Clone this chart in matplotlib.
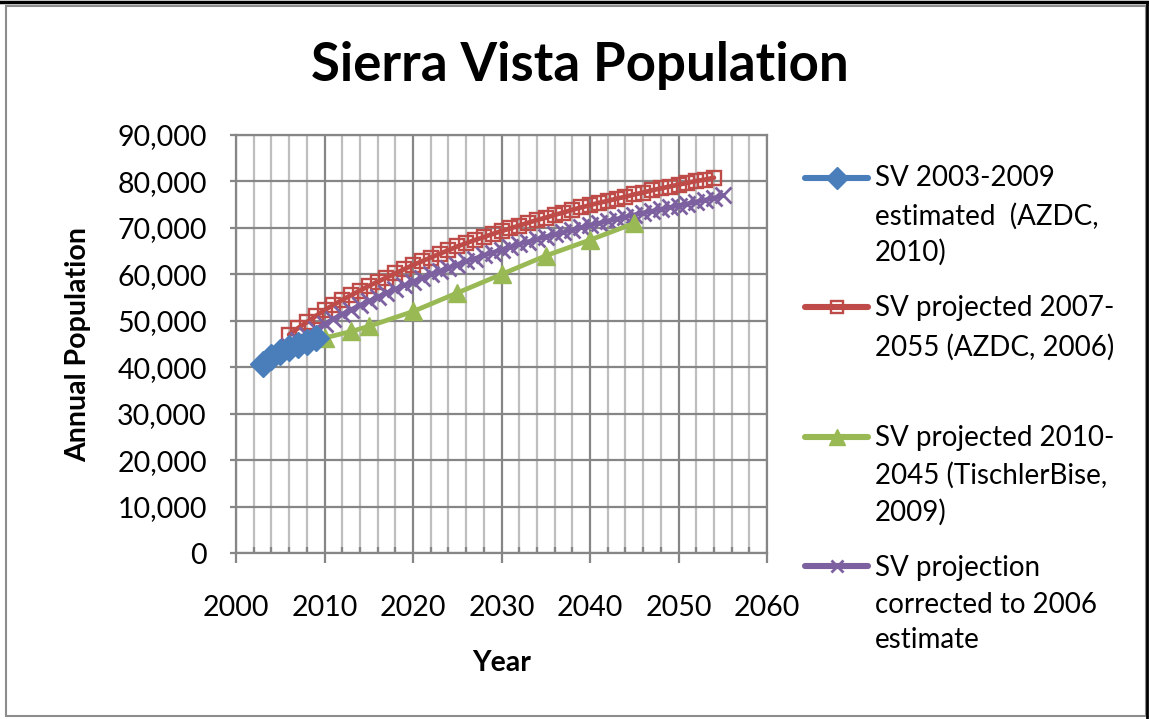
import matplotlib
matplotlib.use("Agg")
import matplotlib.pyplot as plt
from matplotlib.lines import Line2D
from matplotlib.patches import Rectangle
from matplotlib.ticker import MultipleLocator, FuncFormatter

FONT = "Lato"

# --- data -------------------------------------------------------------
est_years = [2003, 2004, 2005, 2006, 2007, 2008, 2009]
est_pop = [40700, 42300, 43300, 44100, 44800, 45500, 46200]

azdc_years = list(range(2006, 2055))
azdc_pop = [47000, 48400, 49700, 51000, 52300, 53400, 54500, 55500, 56500, 57500,
            58400, 59300, 60200, 61100, 62000, 62800, 63600, 64400, 65200, 66000,
            66700, 67400, 68000, 68700, 69300, 69900, 70500, 71100, 71700, 72200,
            72800, 73300, 73900, 74400, 74900, 75400, 75800, 76300, 76700, 77200,
            77600, 78100, 78500, 78900, 79300, 79700, 80100, 80400, 80800]

tb_years = [2010, 2013, 2015, 2020, 2025, 2030, 2035, 2040, 2045]
tb_pop = [46300, 47700, 48800, 52000, 56000, 60000, 64000, 67400, 71000]

corr_years = list(range(2006, 2056))
corr_pop = [44600, 45800, 47000, 48200, 49300, 50400, 51400, 52400, 53300, 54200,
            55100, 56000, 56800, 57600, 58400, 59200, 60000, 60700, 61400, 62100,
            62800, 63400, 64100, 64700, 65300, 65900, 66500, 67000, 67600, 68100,
            68600, 69100, 69600, 70100, 70600, 71000, 71500, 71900, 72400, 72800,
            73200, 73600, 74000, 74400, 74800, 75200, 75600, 76000, 76400, 77000]

legend_lines = [
    ["SV 2003-2009", "estimated  (AZDC,", "2010)"],
    ["SV projected 2007-", "2055 (AZDC, 2006)"],
    ["SV projected 2010-", "2045 (TischlerBise,", "2009)"],
    ["SV projection", "corrected to 2006", "estimate"],
]

# --- styles -----------------------------------------------------------
BLUE, RED, GREEN, PURPLE = "#4A7EBB", "#BE4B48", "#98B954", "#7D60A0"
GRID_MAJOR, GRID_MINOR = "#868686", "#BEBEBE"
LW = 3.4

styles = [
    dict(color=BLUE, lw=LW, marker="D", ms=13, mfc=BLUE, mec=BLUE, mew=1),
    dict(color=RED, lw=LW, marker="s", ms=10.5, mfc="none", mec=RED, mew=1.7),
    dict(color=GREEN, lw=LW, marker="^", ms=13, mfc=GREEN, mec=GREEN, mew=1),
    dict(color=PURPLE, lw=LW, marker="x", ms=11, mfc=PURPLE, mec=PURPLE, mew=2),
]

W, H = 1149, 719
fig = plt.figure(figsize=(W / 100, H / 100), dpi=100)

def fx(px):
    return px / W

def fy(py):
    return 1 - py / H

# chart frame
fig.patches.append(Rectangle((fx(6), fy(716)), fx(1140), 710 / H, transform=fig.transFigure,
                             fill=False, edgecolor="#8C8C8C", lw=1.5))
fig.add_artist(Line2D([0, 1], [fy(2), fy(2)], transform=fig.transFigure, color="black", lw=2.5))
fig.add_artist(Line2D([fx(1147), fx(1147)], [fy(2), fy(719)], transform=fig.transFigure,
                      color="black", lw=2))

ax = fig.add_axes([fx(236), fy(553), fx(767 - 236), (553 - 135) / H])

series = [(est_years, est_pop), (azdc_years, azdc_pop), (tb_years, tb_pop),
          (corr_years, corr_pop)]
draw_order = [1, 3, 2, 0]
for z, i in enumerate(draw_order):
    xs, ys = series[i]
    ax.plot(xs, ys, zorder=3 + z, solid_joinstyle="round", solid_capstyle="round", **styles[i])

ax.set_xlim(2000, 2060)
ax.set_ylim(0, 90000)
ax.xaxis.set_major_locator(MultipleLocator(10))
ax.xaxis.set_minor_locator(MultipleLocator(2))
ax.yaxis.set_major_locator(MultipleLocator(10000))
ax.yaxis.set_major_formatter(FuncFormatter(lambda v, p: f"{int(v):,}"))

ax.grid(which="minor", axis="x", color=GRID_MINOR, lw=1.6, zorder=0)
ax.grid(which="major", axis="both", color=GRID_MAJOR, lw=1.6, zorder=1)
ax.set_axisbelow(True)
for s in ax.spines.values():
    s.set_color(GRID_MAJOR)
    s.set_linewidth(1.6)

ax.tick_params(axis="x", which="major", direction="out", length=7, width=1.6,
               color=GRID_MAJOR, pad=23, labelsize=20.5)
ax.tick_params(axis="x", which="minor", direction="in", length=4, width=1.6,
               color=GRID_MAJOR)
ax.tick_params(axis="y", which="major", direction="out", length=4, width=1.6,
               color=GRID_MAJOR, pad=17, labelsize=20.5)
for lab in ax.get_xticklabels() + ax.get_yticklabels():
    lab.set_fontfamily(FONT)

ax.set_xlabel("Year", fontfamily=FONT, fontweight="bold", fontsize=20.5)
ax.xaxis.set_label_coords(0.5, (553 - 663) / (553 - 135))
ax.set_ylabel("Annual Population", fontfamily=FONT, fontweight="bold", fontsize=20.5)
ax.yaxis.set_label_coords((78 - 236) / (767 - 236), 0.5)
ax.xaxis.label.set_va("center")
ax.yaxis.label.set_va("center")

fig.text(fx(580), fy(66), "Sierra Vista Population", ha="center", va="center",
         fontfamily=FONT, fontweight="bold", fontsize=38)

# legend drawn beside the plot
key_y = [178, 307, 437, 566]
text_y = [[178, 216, 252], [308, 347], [438, 475, 512], [568, 605, 640]]
for i in range(4):
    st = dict(styles[i])
    line = Line2D([fx(805), fx(868)], [fy(key_y[i])] * 2, transform=fig.transFigure,
                  color=st["color"], lw=LW + 1, solid_capstyle="round")
    fig.add_artist(line)
    mk = Line2D([fx(836.5)], [fy(key_y[i])], transform=fig.transFigure, ls="none",
                marker=st["marker"], ms=st["ms"] * 0.85, mfc=st["mfc"], mec=st["mec"],
                mew=st["mew"])
    fig.add_artist(mk)
    for t, yy in zip(legend_lines[i], text_y[i]):
        fig.text(fx(875), fy(yy), t, ha="left", va="center", fontfamily=FONT, fontsize=20)

fig.savefig("out.png", dpi=100)
